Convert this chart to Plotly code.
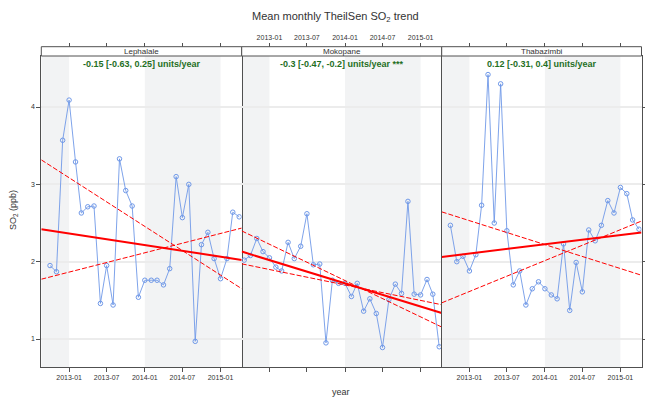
import pandas as pd
import plotly.graph_objects as go

# ---- data -------------------------------------------------------------
sites = ["Lephalale", "Mokopane", "Thabazimbi"]
start_month = ["2012-10-01", "2012-09-01", "2012-10-01"]

lephalale_so2 = [1.95, 1.87, 3.57, 4.09, 3.29, 2.63, 2.71, 2.72, 1.46, 1.95,
                 1.44, 3.33, 2.92, 2.72, 1.54, 1.76, 1.76, 1.76, 1.70, 1.91,
                 3.10, 2.57, 3.00, 0.97, 2.22, 2.38, 2.04, 1.78, 2.04, 2.64,
                 2.58]
mokopane_so2 = [2.02, 2.08, 2.30, 2.13, 2.05, 1.93, 1.88, 2.25, 2.04, 2.20,
                2.62, 1.96, 1.97, 0.95, 1.76, 1.72, 1.72, 1.55, 1.72, 1.36,
                1.52, 1.33, 0.89, 1.51, 1.71, 1.59, 2.78, 1.58, 1.57, 1.77,
                1.58, 0.90]
thabazimbi_so2 = [2.47, 2.00, 2.07, 1.88, 2.09, 2.73, 4.42, 2.50, 4.30, 2.40,
                  1.70, 1.88, 1.44, 1.65, 1.74, 1.65, 1.57, 1.52, 2.23, 1.37,
                  1.99, 1.61, 2.41, 2.27, 2.47, 2.79, 2.63, 2.96, 2.88, 2.54,
                  2.42]
site_values = [lephalale_so2, mokopane_so2, thabazimbi_so2]

# Theil-Sen slopes (units/year) with 95% interval
slope = [-0.15, -0.3, 0.12]
slope_lower = [-0.63, -0.47, -0.31]
slope_upper = [0.25, -0.2, 0.4]
signif = ["", " ***", ""]
# level of each trend line at the reference date
trend_ref = "2014-01-01"
level_mid = [2.215, 1.721, 2.225]
level_lower = [2.456, 1.756, 2.221]
level_upper = [2.115, 1.699, 2.014]

tick_dates = ["2013-01-01", "2013-07-01", "2014-01-01", "2014-07-01", "2015-01-01"]
tick_text = ["2013-01", "2013-07", "2014-01", "2014-07", "2015-01"]
y_ticks = [1, 2, 3, 4]
x_range = ["2012-08-20", "2015-04-13"]
y_range = [0.638, 4.66]
shaded_years = [2012, 2014]

# ---- layout geometry (pixels) -----------------------------------------
W, H = 645, 398
panel_px = [(41.3, 241.7), (241.7, 441.7), (441.7, 641.5)]
plot_top, plot_bottom, strip_top = 56.0, 367.0, 46.7


def px_x(p):
    return p / W


def px_y(p):
    return 1 - p / H


AX = "#505050"
DATA_COL = "#6f98e8"
TREND_COL = "#FF0000"
TEXT_COL = "#1f6f1f"

fig = go.Figure()
layout = dict(
    width=W, height=H, autosize=False,
    margin=dict(l=0, r=0, t=0, b=0),
    paper_bgcolor="white", plot_bgcolor="white",
    showlegend=False,
    font=dict(family="Liberation Sans, Arial, sans-serif", color="#333333"),
)

shapes = []
annotations = []


def years_between(d):
    return (pd.Timestamp(d) - pd.Timestamp(trend_ref)).days / 365.25


x0r, x1r = pd.Timestamp(x_range[0]), pd.Timestamp(x_range[1])

for i, site in enumerate(sites):
    n = i + 1
    xs = "x" if n == 1 else f"x{n}"
    ys = "y" if n == 1 else f"y{n}"
    dom = [px_x(panel_px[i][0]), px_x(panel_px[i][1])]

    layout[f"xaxis{'' if n == 1 else n}"] = dict(
        domain=dom, anchor=ys, type="date", range=x_range,
        tickvals=tick_dates, ticktext=tick_text,
        ticks="outside", ticklen=4, tickwidth=1, tickcolor=AX,
        showline=True, linecolor=AX, linewidth=1, mirror=True,
        showgrid=False, zeroline=False, showticklabels=(i != 1),
        tickfont=dict(size=7, color="#333333"), fixedrange=True,
    )
    # the middle panel borrows its side borders from its neighbours
    layout[f"yaxis{'' if n == 1 else n}"] = dict(
        domain=[px_y(plot_bottom), px_y(plot_top)], anchor=xs,
        range=y_range, tickvals=y_ticks,
        ticks="outside" if i != 1 else "", ticklen=4, tickwidth=1, tickcolor=AX,
        side="right" if i == 2 else "left",
        showticklabels=(i == 0), tickfont=dict(size=7, color="#333333"),
        showline=(i != 1), linecolor=AX, linewidth=1, mirror=True,
        showgrid=True, gridcolor="#ececec", gridwidth=1.5,
        zeroline=False, fixedrange=True,
    )
    # date ticks above the strip
    top_n = 3 + n
    layout[f"xaxis{top_n}"] = dict(
        overlaying=xs, anchor="free", position=px_y(strip_top), side="top",
        type="date", range=x_range, tickvals=tick_dates, ticktext=tick_text,
        ticks="outside", ticklen=4, tickwidth=1, tickcolor=AX,
        showline=False, showgrid=False, zeroline=False,
        showticklabels=(i == 1), tickfont=dict(size=7, color="#333333"),
        fixedrange=True,
    )
    fig.add_trace(go.Scatter(x=x_range, y=[None, None], mode="lines",
                             xaxis=f"x{top_n}", yaxis=ys, hoverinfo="skip",
                             showlegend=False))

    # alternate-year shading
    for yr in shaded_years:
        s = max(pd.Timestamp(f"{yr}-01-01"), x0r)
        e = min(pd.Timestamp(f"{yr + 1}-01-01"), x1r)
        if s < e:
            shapes.append(dict(type="rect", xref=xs, yref=f"{ys} domain",
                               x0=s, x1=e, y0=0, y1=1, layer="below",
                               fillcolor="#f2f3f4", line=dict(width=0)))

    # monthly means
    vals = site_values[i]
    dates = pd.date_range(start_month[i], periods=len(vals), freq="MS")
    fig.add_trace(go.Scatter(
        x=dates, y=vals, mode="lines+markers", xaxis=xs, yaxis=ys,
        line=dict(color=DATA_COL, width=0.9),
        marker=dict(symbol="circle-open", size=4.5, color=DATA_COL,
                    line=dict(width=1, color=DATA_COL)),
        showlegend=False,
    ))

    # trend line and its interval
    for sl, lv, w, dash in [(slope_lower[i], level_lower[i], 1, "5px,2px"),
                            (slope_upper[i], level_upper[i], 1, "5px,2px"),
                            (slope[i], level_mid[i], 2, "solid")]:
        ty = [lv + sl * years_between(d) for d in x_range]
        fig.add_trace(go.Scatter(
            x=x_range, y=ty, mode="lines", xaxis=xs, yaxis=ys,
            line=dict(color=TREND_COL, width=w, dash=dash),
            hoverinfo="skip", showlegend=False,
        ))

    # strip with site name
    shapes.append(dict(type="rect", xref="paper", yref="paper",
                       x0=dom[0], x1=dom[1], y0=px_y(plot_top), y1=px_y(strip_top),
                       fillcolor="white", line=dict(color=AX, width=1)))
    annotations.append(dict(text=site, xref="paper", yref="paper",
                            x=(dom[0] + dom[1]) / 2, y=px_y((plot_top + strip_top) / 2),
                            showarrow=False, xanchor="center", yanchor="middle",
                            font=dict(size=8, color="#333333")))
    # trend summary
    label = f"{slope[i]} [{slope_lower[i]}, {slope_upper[i]}] units/year{signif[i]}"
    annotations.append(dict(text=f"<b>{label}</b>", xref="paper", yref="paper",
                            x=(dom[0] + dom[1]) / 2, y=px_y(63.5),
                            showarrow=False, xanchor="center", yanchor="middle",
                            font=dict(size=9, color=TEXT_COL)))

annotations.append(dict(text="Mean monthly TheilSen SO<sub>2</sub> trend",
                        xref="paper", yref="paper", x=px_x(335), y=px_y(17),
                        showarrow=False, xanchor="center", yanchor="middle",
                        font=dict(size=11, color="#333333")))
annotations.append(dict(text="year", xref="paper", yref="paper",
                        x=px_x(341), y=px_y(392), showarrow=False,
                        xanchor="center", yanchor="middle",
                        font=dict(size=9, color="#333333")))
annotations.append(dict(text="SO<sub>2</sub> (ppb)", xref="paper", yref="paper",
                        x=px_x(14), y=px_y(210), showarrow=False, textangle=-90,
                        xanchor="center", yanchor="middle",
                        font=dict(size=9, color="#333333")))

layout["shapes"] = shapes
layout["annotations"] = annotations
fig.update_layout(**layout)
fig.write_html("out.html")
